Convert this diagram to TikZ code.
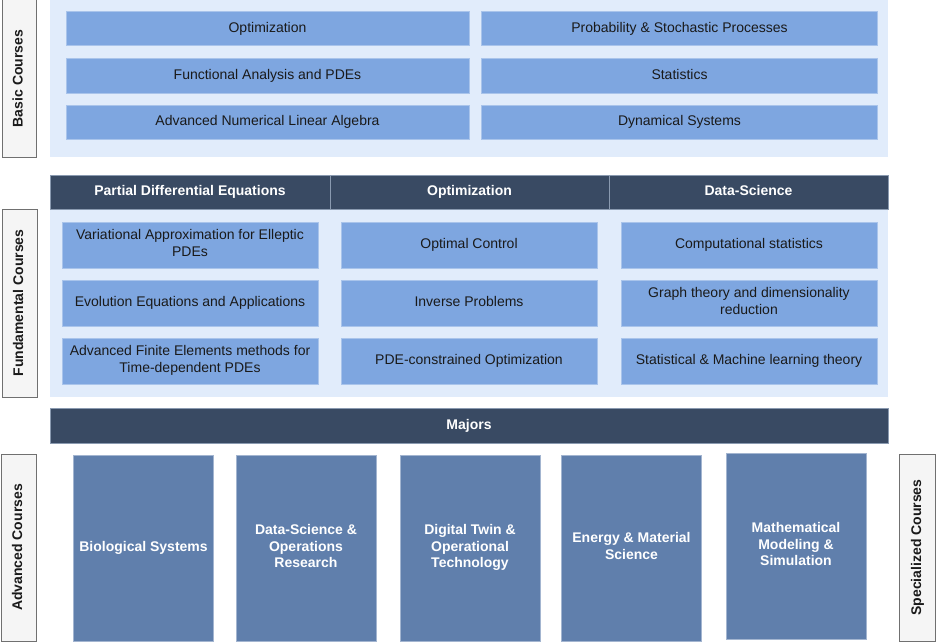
\documentclass[tikz,border=0pt]{standalone}
\usepackage{fontspec}
\setmainfont{Liberation Sans}
\definecolor{lightbox}{HTML}{7EA6E0}
\definecolor{lightstroke}{HTML}{A9C4EB}
\definecolor{container}{HTML}{E1ECFB}
\definecolor{darkhead}{HTML}{394A63}
\definecolor{darkstroke}{HTML}{8A9AB0}
\definecolor{advbox}{HTML}{607FAC}
\definecolor{advstroke}{HTML}{A3B5D0}
\definecolor{txtdark}{HTML}{1A1A1A}
\definecolor{graylab}{HTML}{F5F5F5}
\definecolor{graystroke}{HTML}{707070}
\newcommand{\topstrut}{\rule{0pt}{11pt}}
\newcommand{\botstrut}{\rule[-4pt]{0pt}{4pt}}
\begin{document}
\begin{tikzpicture}[x=1pt,y=-1pt,
  every node/.style={inner sep=0pt, outer sep=0pt},
  struts/.style={execute at begin node=\topstrut, execute at end node=\botstrut},
  cbox/.style={rectangle, fill=lightbox, draw=lightstroke, line width=1pt, text=txtdark,
    font=\fontsize{14}{16.5}\selectfont, align=center, struts},
  contbox/.style={rectangle, fill=container, draw=none},
  headbox/.style={rectangle, fill=darkhead, draw=darkstroke, line width=0.8pt, text=white,
    font=\fontsize{14}{16.5}\selectfont\bfseries, align=center, struts},
  advcourse/.style={rectangle, fill=advbox, draw=advstroke, line width=1pt, text=white,
    font=\fontsize{14}{16.5}\selectfont\bfseries, align=center, struts, minimum width=140, minimum height=186},
  sidelab/.style={rectangle, fill=graylab, draw=graystroke, line width=1pt, text=txtdark,
    font=\fontsize{14}{16.5}\selectfont\bfseries, rotate=90, struts}
]
\path[use as bounding box, fill=white] (0,0) rectangle (936,642);

% ---------- Basic courses ----------
\node[sidelab, minimum width=157, minimum height=34] (lbasic) at (19,78.5) {Basic Courses};
\node[contbox, minimum width=838, minimum height=157] (cbasic) at (469,78.5) {};
\node[cbox, minimum width=403, minimum height=34] (b1) at (267.5,29) {Optimization};
\node[cbox, minimum width=403, minimum height=34] (b2) at (267.5,76) {Functional Analysis and PDEs};
\node[cbox, minimum width=403, minimum height=34] (b3) at (267.5,122) {Advanced Numerical Linear Algebra};
\node[cbox, minimum width=396, minimum height=34] (b4) at (679.5,29) {Probability \& Stochastic Processes};
\node[cbox, minimum width=396, minimum height=34] (b5) at (679.5,76) {Statistics};
\node[cbox, minimum width=396, minimum height=34] (b6) at (679.5,122) {Dynamical Systems};

% ---------- Fundamental courses ----------
\node[sidelab, minimum width=188, minimum height=35] (lfund) at (19.5,303) {Fundamental Courses};
\node[contbox, minimum width=838, minimum height=188] (cfund) at (469,303) {};
\node[headbox, minimum width=280, minimum height=34] (h1) at (190,192) {Partial Differential Equations};
\node[headbox, minimum width=279, minimum height=34] (h2) at (469.5,192) {Optimization};
\node[headbox, minimum width=279, minimum height=34] (h3) at (748.5,192) {Data-Science};

\node[cbox, minimum width=256, minimum height=46] (f11) at (190,245) {Variational Approximation for Elleptic\\PDEs};
\node[cbox, minimum width=256, minimum height=46] (f12) at (190,303) {Evolution Equations and Applications};
\node[cbox, minimum width=256, minimum height=46] (f13) at (190,361) {Advanced Finite Elements methods for\\Time-dependent PDEs};
\node[cbox, minimum width=256, minimum height=46] (f21) at (469,245) {Optimal Control};
\node[cbox, minimum width=256, minimum height=46] (f22) at (469,303) {Inverse Problems};
\node[cbox, minimum width=256, minimum height=46] (f23) at (469,361) {PDE-constrained Optimization};
\node[cbox, minimum width=256, minimum height=46] (f31) at (749,245) {Computational statistics};
\node[cbox, minimum width=256, minimum height=46] (f32) at (749,303) {Graph theory and dimensionality\\reduction};
\node[cbox, minimum width=256, minimum height=46] (f33) at (749,361) {Statistical \& Machine learning theory};

% ---------- Advanced courses ----------
\node[headbox, minimum width=838, minimum height=35] (majors) at (469,425.5) {Majors};
\node[sidelab, minimum width=187, minimum height=35] (ladv) at (18.5,547.5) {Advanced Courses};
\node[sidelab, minimum width=187, minimum height=36] (lspec) at (917.5,547.5) {Specialized Courses};

\node[advcourse] (a1) at (143.5,548) {Biological Systems};
\node[advcourse] (a2) at (306,548) {Data-Science \&\\Operations\\Research};
\node[advcourse] (a3) at (470,548) {Digital Twin \&\\Operational\\Technology};
\node[advcourse] (a4) at (631.5,548) {Energy \& Material\\Science};
\node[advcourse] (a5) at (796,546) {Mathematical\\Modeling \&\\Simulation};
\end{tikzpicture}
\end{document}
